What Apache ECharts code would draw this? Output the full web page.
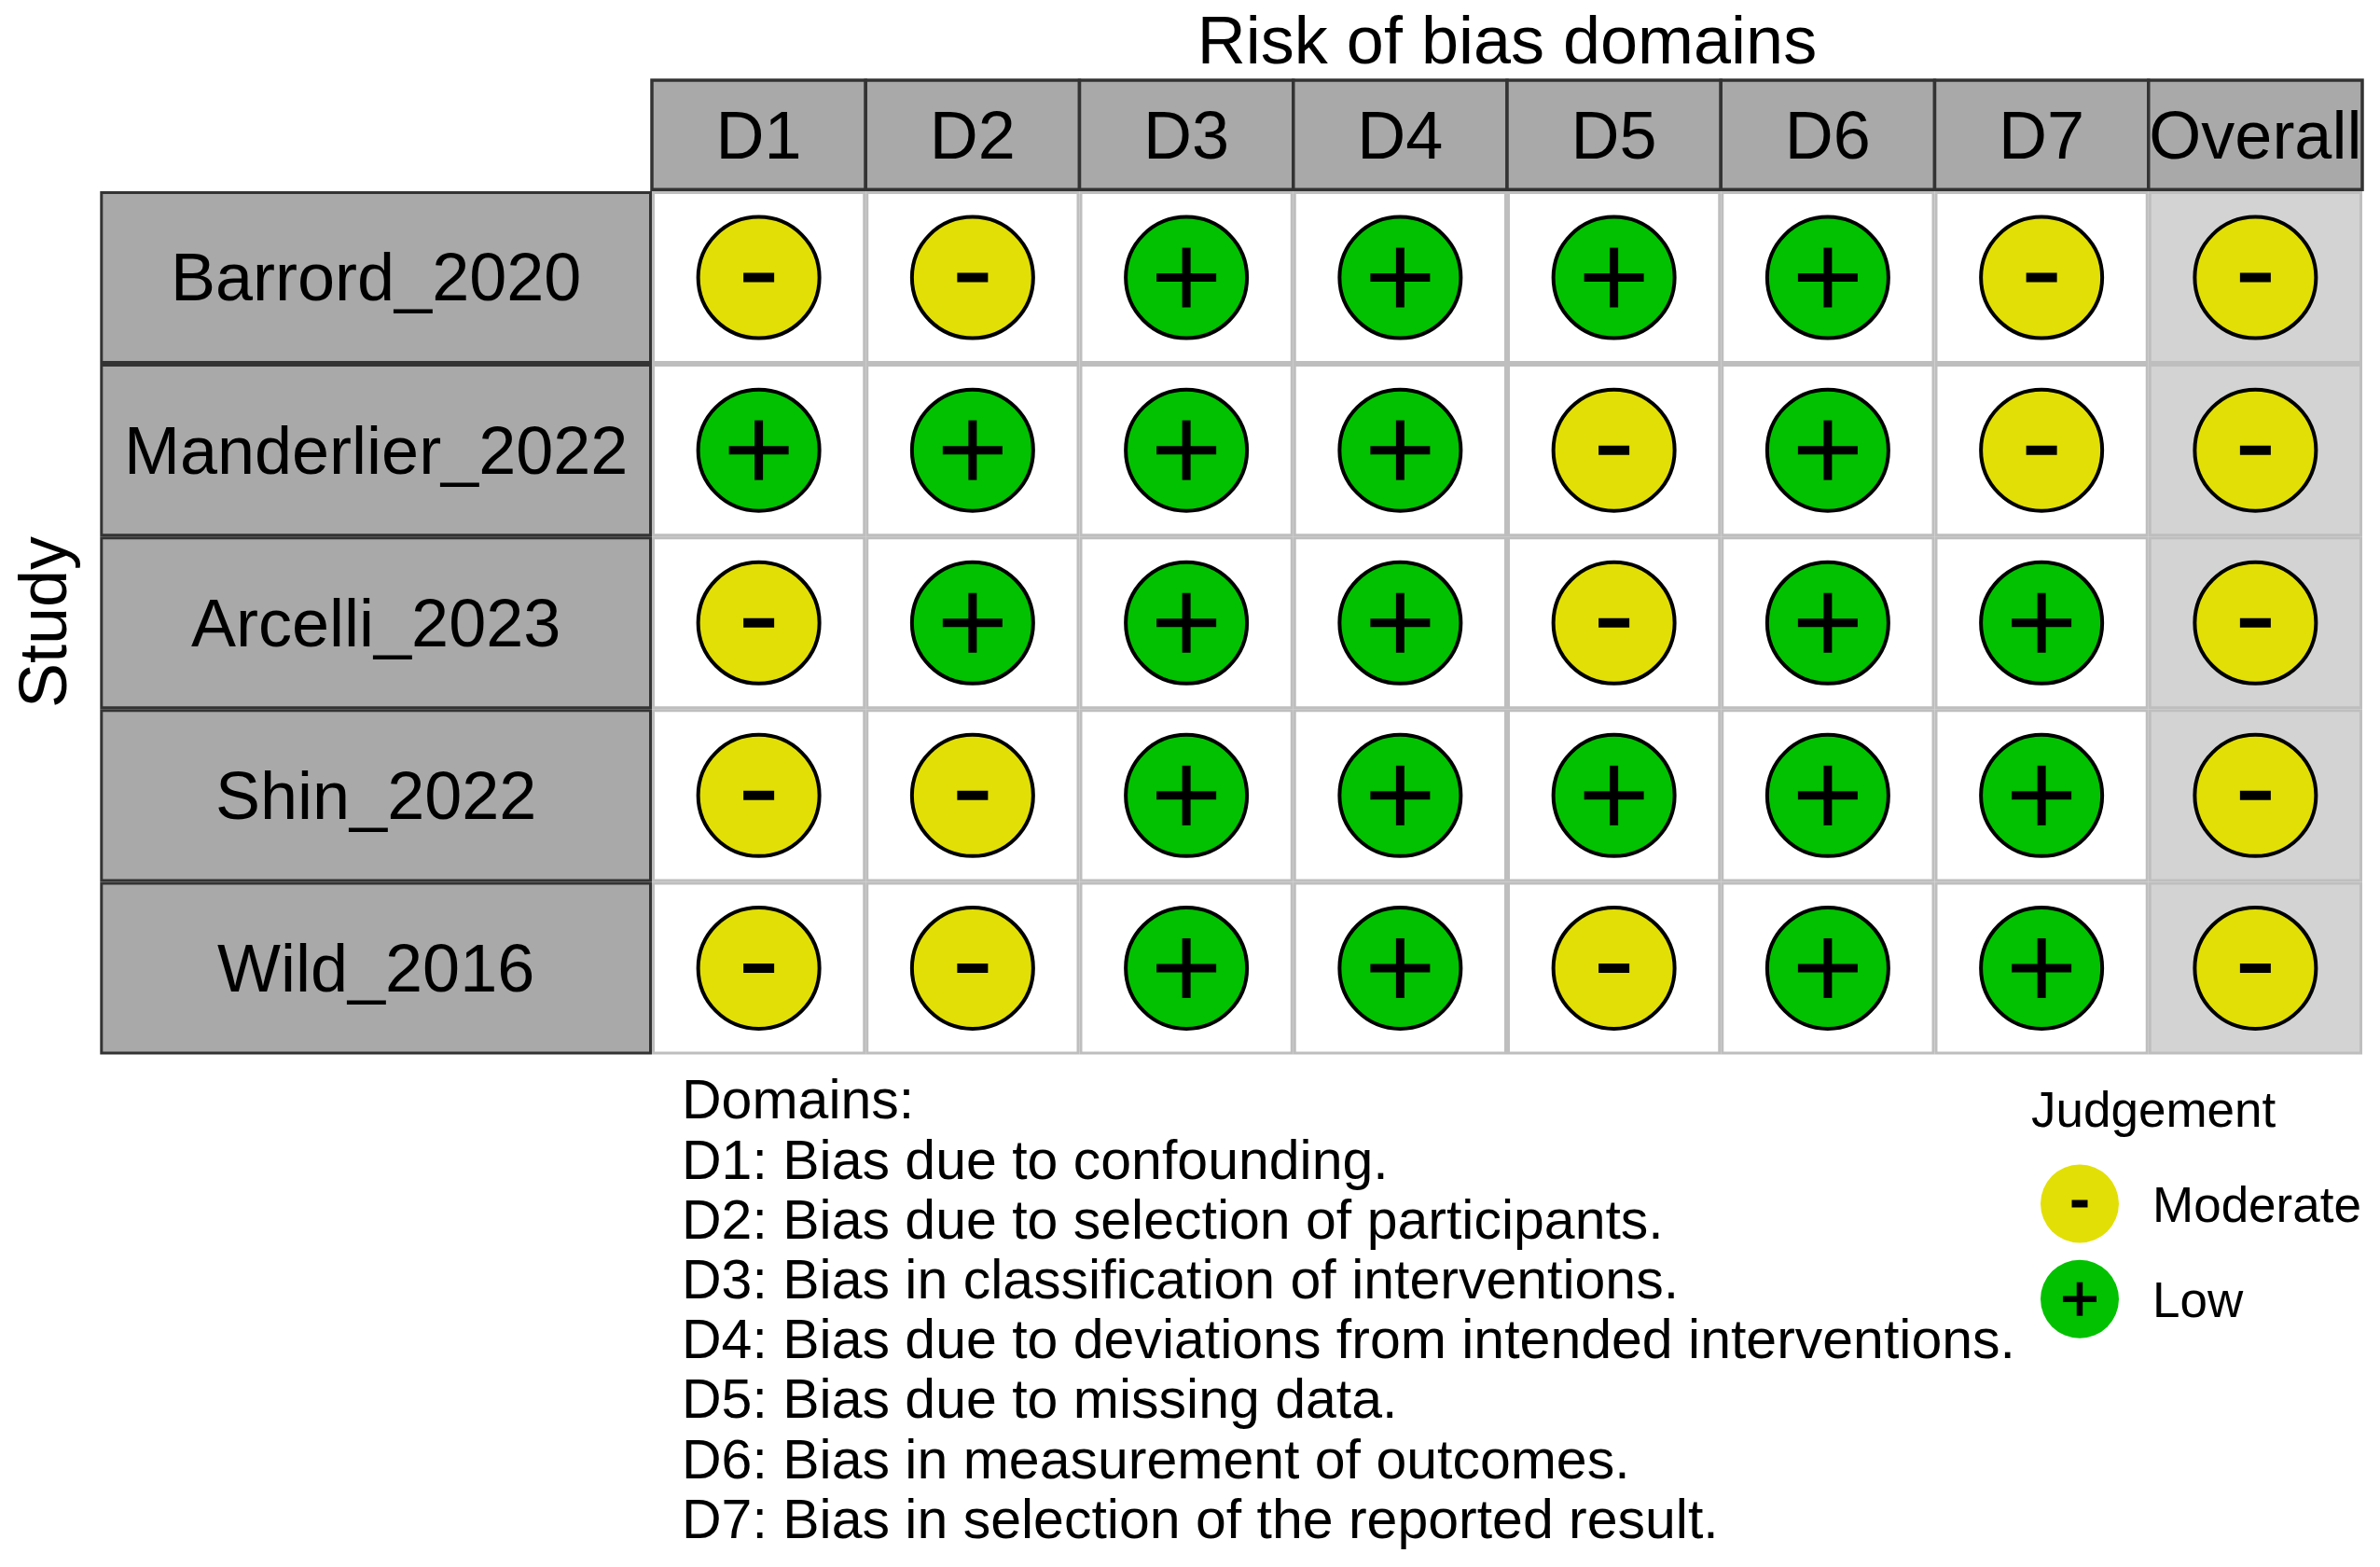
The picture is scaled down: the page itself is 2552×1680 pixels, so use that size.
<!DOCTYPE html>
<html>
<head>
<meta charset="utf-8">
<script src="https://cdn.jsdelivr.net/npm/echarts@6/dist/echarts.min.js"></script>
<style>
html,body{margin:0;padding:0;background:#fff;}
#chart{width:2552px;height:1680px;}
</style>
</head>
<body>
<div id="chart"></div>
<script>
// ---------- data ----------
const domains = ['D1', 'D2', 'D3', 'D4', 'D5', 'D6', 'D7', 'Overall'];
const studies = ['Barrord_2020', 'Manderlier_2022', 'Arcelli_2023', 'Shin_2022', 'Wild_2016'];
const levels = ['Moderate', 'Low'];
const barrord2020    = ['Moderate', 'Moderate', 'Low', 'Low', 'Low', 'Low', 'Moderate', 'Moderate'];
const manderlier2022 = ['Low', 'Low', 'Low', 'Low', 'Moderate', 'Low', 'Moderate', 'Moderate'];
const arcelli2023    = ['Moderate', 'Low', 'Low', 'Low', 'Moderate', 'Low', 'Low', 'Moderate'];
const shin2022       = ['Moderate', 'Moderate', 'Low', 'Low', 'Low', 'Low', 'Low', 'Moderate'];
const wild2016       = ['Moderate', 'Moderate', 'Low', 'Low', 'Moderate', 'Low', 'Low', 'Moderate'];
const domainNotes = [
  'Domains:',
  'D1: Bias due to confounding.',
  'D2: Bias due to selection of participants.',
  'D3: Bias in classification of interventions.',
  'D4: Bias due to deviations from intended interventions.',
  'D5: Bias due to missing data.',
  'D6: Bias in measurement of outcomes.',
  'D7: Bias in selection of the reported result.'
];
const titleText = 'Risk of bias domains';
const yTitle = 'Study';
const legendTitle = 'Judgement';

// ---------- build ----------
const judgementRows = [barrord2020, manderlier2022, arcelli2023, shin2022, wild2016];
const cellData = [];
judgementRows.forEach((row, r) => row.forEach((j, c) => cellData.push([c, r, levels.indexOf(j)])));

const FONT = '"Liberation Sans", Arial, Helvetica, sans-serif';
const COLORS = { Moderate: '#E2DF07', Low: '#02C100' };
const DY = 5; // baseline correction for middle-aligned text

function symbolShapes(cx, cy, lvl, big) {
  const out = [];
  if (lvl === 'Low') {
    const L = big ? 64 : 36, T = big ? 9 : 6.5;
    out.push({ type: 'rect', shape: { x: cx - L / 2, y: cy - T / 2, width: L, height: T }, style: { fill: '#000' } });
    out.push({ type: 'rect', shape: { x: cx - T / 2, y: cy - L / 2, width: T, height: L }, style: { fill: '#000' } });
  } else {
    const L = big ? 33 : 17, T = big ? 10 : 8;
    out.push({ type: 'rect', shape: { x: cx - L / 2, y: cy - T / 2, width: L, height: T }, style: { fill: '#000' } });
  }
  return out;
}

function textEl(text, x, y, size, align, valign, extra) {
  return Object.assign({
    type: 'text',
    style: {
      text: text, x: x, y: y, fill: '#000',
      font: size + 'px ' + FONT,
      textAlign: align, textVerticalAlign: valign,
      align: align, verticalAlign: valign
    }
  }, extra || {});
}

const chart = echarts.init(document.getElementById('chart'));
chart.setOption({
  animation: false,
  backgroundColor: '#fff',
  grid: [
    { left: 699, top: 205, width: 1834, height: 925.5 },
    { left: 2188, top: 1239.4, width: 84, height: 204.4 }
  ],
  xAxis: [
    { type: 'category', data: domains, gridIndex: 0, show: false },
    { type: 'category', data: ['x'], gridIndex: 1, show: false }
  ],
  yAxis: [
    { type: 'category', data: studies, gridIndex: 0, inverse: true, show: false },
    { type: 'category', data: levels, gridIndex: 1, inverse: true, show: false }
  ],
  graphic: [
    textEl(titleText, 1616, 43 + DY, 72, 'center', 'middle'),
    Object.assign(textEl(yTitle, 0, 0, 72, 'center', 'middle'), { x: 51, y: 667, rotation: Math.PI / 2 }),
    {
      type: 'text', x: 731, y: 1151,
      style: {
        text: domainNotes.join('\n'), x: 0, y: 0, fill: '#000',
        font: '59px ' + FONT, lineHeight: 64.2,
        textAlign: 'left', textVerticalAlign: 'top', align: 'left', verticalAlign: 'top'
      }
    },
    textEl(legendTitle, 2178, 1188 + DY, 53, 'left', 'middle')
  ],
  series: [
    {
      type: 'custom', name: 'header', xAxisIndex: 0, yAxisIndex: 0,
      data: domains.map((d, i) => [i, 0]),
      renderItem: function (params, api) {
        const i = api.value(0);
        const c = api.coord([i, 0]);
        const w = api.size([1, 1])[0];
        const cs = params.coordSys;
        const top = cs.y - 119, h = 117.3;
        return {
          type: 'group', children: [
            { type: 'rect', shape: { x: c[0] - w / 2, y: top, width: w, height: h },
              style: { fill: '#A9A9A9', stroke: '#333333', lineWidth: 3.5 } },
            textEl(domains[i], c[0], top + h / 2 + DY, 72, 'center', 'middle')
          ]
        };
      }
    },
    {
      type: 'custom', name: 'study', xAxisIndex: 0, yAxisIndex: 0,
      data: studies.map((s, i) => [0, i]),
      renderItem: function (params, api) {
        const r = api.value(1);
        const c = api.coord([0, r]);
        const h = api.size([1, 1])[1];
        const cs = params.coordSys;
        const x0 = cs.x - 590.2, x1 = cs.x - 1.5;
        return {
          type: 'group', children: [
            { type: 'rect', shape: { x: x0, y: c[1] - h / 2 + 1.5, width: x1 - x0, height: h - 3 },
              style: { fill: '#A9A9A9', stroke: '#333333', lineWidth: 3 } },
            textEl(studies[r], (x0 + x1) / 2, c[1] + DY, 72, 'center', 'middle')
          ]
        };
      }
    },
    {
      type: 'custom', name: 'cells', xAxisIndex: 0, yAxisIndex: 0,
      data: cellData,
      renderItem: function (params, api) {
        const col = api.value(0), row = api.value(1);
        const lvl = levels[api.value(2)];
        const c = api.coord([col, row]);
        const sz = api.size([1, 1]);
        const w = sz[0], h = sz[1];
        const x0 = c[0] - w / 2, y0 = c[1] - h / 2;
        const children = [
          { type: 'rect', shape: { x: x0, y: y0, width: w, height: h }, style: { fill: '#BEBEBE' } },
          { type: 'rect', shape: { x: x0 + 3, y: y0 + 3, width: w - 6, height: h - 6 },
            style: { fill: domains[col] === 'Overall' ? '#D3D3D3' : '#FFFFFF' } },
          { type: 'circle', shape: { cx: c[0], cy: c[1], r: 65 },
            style: { fill: COLORS[lvl], stroke: '#000', lineWidth: 4 } }
        ].concat(symbolShapes(c[0], c[1], lvl, true));
        return { type: 'group', children: children };
      }
    },
    {
      type: 'custom', name: 'legend', xAxisIndex: 1, yAxisIndex: 1,
      data: levels.map((l, i) => [0, i]),
      renderItem: function (params, api) {
        const i = api.value(1);
        const lvl = levels[i];
        const c = api.coord([0, i]);
        const children = [
          { type: 'circle', shape: { cx: c[0], cy: c[1], r: 42 }, style: { fill: COLORS[lvl] } }
        ].concat(symbolShapes(c[0], c[1], lvl, false));
        children.push(textEl(lvl, c[0] + 78, c[1] + DY, 53, 'left', 'middle'));
        return { type: 'group', children: children };
      }
    }
  ]
});
</script>
</body>
</html>
